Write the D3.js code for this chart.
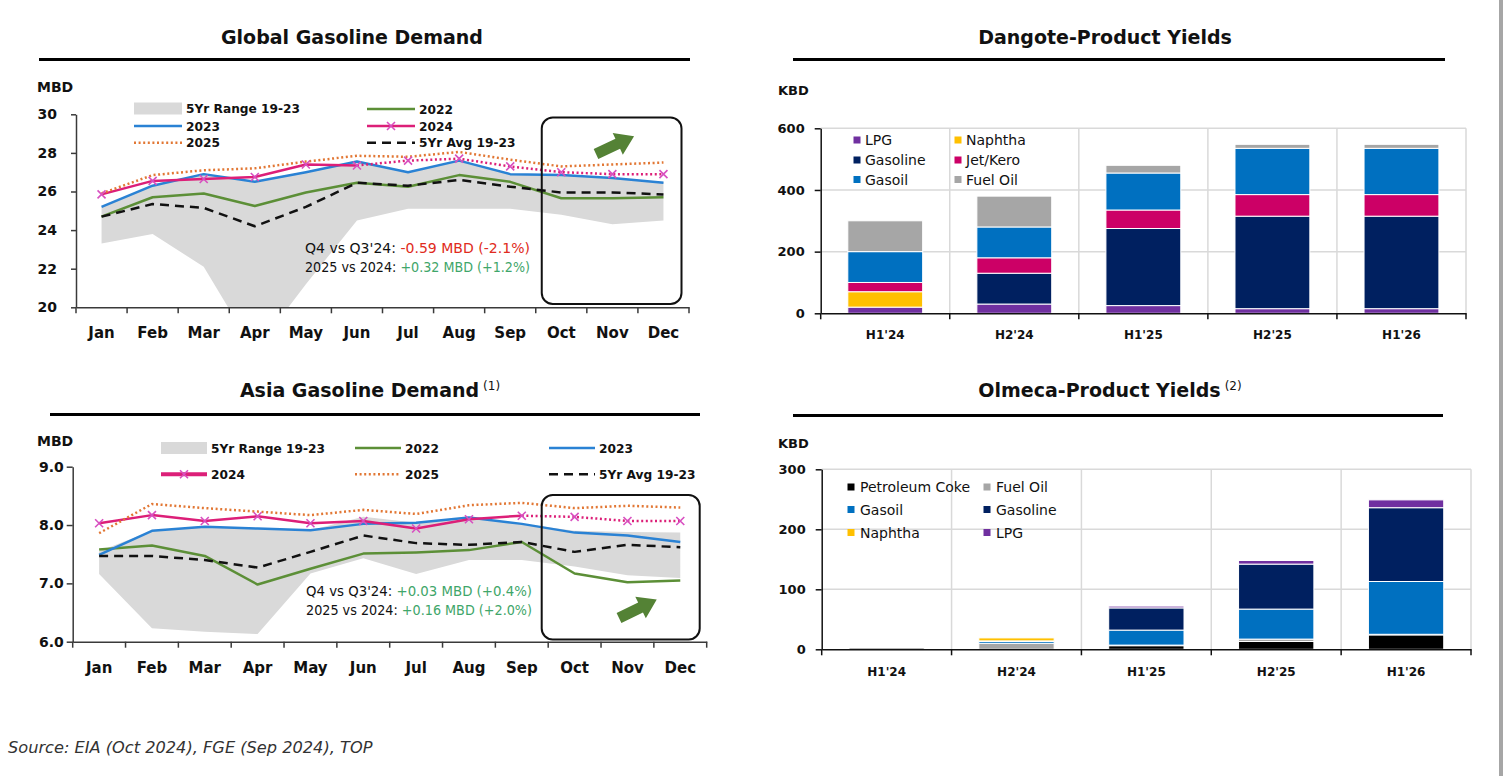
<!DOCTYPE html>
<html><head><meta charset="utf-8">
<script src="https://cdn.jsdelivr.net/npm/d3@7"></script>
<style>
body{margin:0;background:#fff}
svg{display:block}
text{font-family:"DejaVu Sans",sans-serif}
</style>
</head><body>
<svg id="c" width="1503" height="776"></svg>
<script>
// ---------------- DATA ----------------
const months = ["Jan","Feb","Mar","Apr","May","Jun","Jul","Aug","Sep","Oct","Nov","Dec"];

// Global gasoline demand (MBD)
const globalRangeLow  = [23.3, 23.8, 22.1, 17.7, 21.2, 24.5, 25.1, 25.1, 25.1, 24.8, 24.3, 24.5];
const globalRangeHigh = [25.2, 26.3, 26.9, 26.5, 27.0, 27.6, 27.0, 27.6, 26.9, 26.9, 26.7, 26.5];
const global2022 = [24.7, 25.7, 25.9, 25.25, 25.95, 26.45, 26.25, 26.85, 26.5, 25.65, 25.65, 25.7];
const global2023 = [25.2, 26.3, 26.9, 26.5, 27.0, 27.55, 27.0, 27.6, 26.9, 26.85, 26.7, 26.45];
const global2024 = [25.85, 26.55, 26.65, 26.75, 27.4, 27.35, 27.6, 27.7, 27.3, 27.0, 26.9, 26.9];
const global2025 = [25.9, 26.85, 27.1, 27.2, 27.55, 27.85, 27.8, 28.05, 27.65, 27.3, 27.4, 27.5];
const globalAvg  = [24.7, 25.35, 25.15, 24.2, 25.2, 26.45, 26.3, 26.6, 26.25, 25.95, 25.95, 25.85];
const globalTicks = [20, 22, 24, 26, 28, 30];

// Asia gasoline demand (MBD)
const asiaRangeLow  = [7.16, 6.23, 6.17, 6.13, 7.17, 7.43, 7.16, 7.40, 7.40, 7.29, 7.14, 7.09];
const asiaRangeHigh = [7.55, 7.90, 7.97, 7.94, 7.91, 8.14, 8.04, 8.13, 8.02, 7.90, 7.88, 7.87];
const asia2022 = [7.58, 7.65, 7.47, 6.98, 7.25, 7.51, 7.53, 7.57, 7.71, 7.17, 7.02, 7.05];
const asia2023 = [7.49, 7.90, 7.97, 7.94, 7.91, 8.02, 8.04, 8.13, 8.02, 7.87, 7.82, 7.71];
const asia2024 = [8.03, 8.17, 8.07, 8.15, 8.03, 8.07, 7.94, 8.10, 8.16, 8.14, 8.07, 8.07];
const asia2025 = [7.86, 8.36, 8.29, 8.23, 8.17, 8.26, 8.19, 8.34, 8.38, 8.29, 8.33, 8.30];
const asiaAvg  = [7.47, 7.47, 7.40, 7.27, 7.54, 7.82, 7.69, 7.66, 7.71, 7.54, 7.66, 7.62];
const asiaTicks = [6, 7, 8, 9];

// Product yields (KBD)
const periods = ["H1'24", "H2'24", "H1'25", "H2'25", "H1'26"];

const dangoteLPG      = [20, 30, 25, 15, 15];
const dangoteNaphtha  = [50, 0, 0, 0, 0];
const dangoteGasoline = [0, 100, 250, 300, 300];
const dangoteJet      = [30, 50, 60, 70, 70];
const dangoteGasoil   = [100, 100, 120, 150, 150];
const dangoteFuelOil  = [100, 100, 25, 13, 13];
const dangoteTicks = [0, 200, 400, 600];

const olmecaCoke     = [0, 0, 6, 13, 24];
const olmecaFuelOil  = [3, 10, 1, 4, 1];
const olmecaGasoil   = [0, 3, 25, 50, 88];
const olmecaGasoline = [0, 1, 37, 75, 123];
const olmecaNaphtha  = [0, 5, 0, 0, 0];
const olmecaLPG      = [0, 0, 3, 6, 13];
const olmecaTicks = [0, 100, 200, 300];

// ---------------- STYLE ----------------
const C = {
  range: "#D9D9D9", y2022: "#5C8F37", y2023: "#2A82D4", y2024: "#DC1F78", mark: "#D84FC0",
  y2025: "#E27734", avg: "#111111", axis: "#3a3a3a", grid: "#D9D9D9",
  LPG: "#7030A0", Naphtha: "#FFC000", Gasoline: "#002060", Jet: "#CC0066",
  Gasoil: "#0070C0", FuelOil: "#A6A6A6", Coke: "#000000", arrow: "#548235",
  red: "#E02B20", green: "#3FA66A"
};

const svg = d3.select("#c");

// right grey border strip
svg.append("rect").attr("x", 1499).attr("y", 0).attr("width", 4).attr("height", 776).attr("fill", "#A6A6A6");

function title(x, y, txt, sup, x0, x1, uy) {
  const t = svg.append("text").attr("x", x).attr("y", y).attr("text-anchor", "middle")
    .attr("font-size", 19).attr("font-weight", "bold").attr("fill", "#111").text(txt);
  if (sup) t.append("tspan").attr("font-size", 12).attr("font-weight", "normal").attr("dy", -7).attr("dx", 4).text(sup);
  svg.append("line").attr("x1", x0).attr("x2", x1).attr("y1", uy).attr("y2", uy)
    .attr("stroke", "#000").attr("stroke-width", 3);
}

function arrow(cx, cy, ang) {
  svg.append("path")
    .attr("d", "M0,-5.5L24,-5.5L24,-12L42,0L24,12L24,5.5L0,5.5Z")
    .attr("fill", C.arrow)
    .attr("transform", `translate(${cx},${cy}) rotate(${ang})`);
}

const markerPath = "M-4,-4L4,4M-4,4L4,-4";

function linePanel(o) {
  const g = svg.append("g");
  const x = d3.scaleBand().domain(months).range([o.x0, o.x1]).padding(0);
  const y = d3.scaleLinear().domain(o.domain).range([o.yB, o.yT]);
  const cx = i => x(months[i]) + x.bandwidth() / 2;

  const clipId = "clip" + o.id;
  svg.append("clipPath").attr("id", clipId).append("rect")
    .attr("x", o.x0).attr("y", o.yT - 30).attr("width", o.x1 - o.x0).attr("height", o.yB - o.yT + 30);

  const area = d3.area().x((d, i) => cx(i)).y0((d, i) => y(o.lo[i])).y1((d, i) => y(o.hi[i]));
  g.append("path").datum(o.lo).attr("d", area).attr("fill", C.range).attr("clip-path", `url(#${clipId})`);

  const line = d3.line().x(d => cx(d.i)).y(d => y(d.v));
  const pts = arr => arr.map((v, i) => ({ v, i }));
  const draw = (data, color, dash) => g.append("path").datum(data).attr("d", line)
    .attr("fill", "none").attr("stroke", color).attr("stroke-width", 2.5)
    .attr("stroke-dasharray", dash || null).attr("stroke-linejoin", "round");

  draw(pts(o.s2022), C.y2022);
  draw(pts(o.s2023), C.y2023);
  const p24 = pts(o.s2024);
  draw(p24.slice(0, o.split + 1), C.y2024);
  draw(p24.slice(o.split), C.y2024, "2,2.6");
  draw(pts(o.s2025), C.y2025, "2,2.6");
  draw(pts(o.avg), C.avg, "9,6");
  g.selectAll(".mk").data(p24).join("path").attr("d", markerPath)
    .attr("transform", d => `translate(${cx(d.i)},${y(d.v)})`)
    .attr("stroke", C.mark).attr("stroke-width", 1.6).attr("fill", "none");

  // y axis
  const ya = g.append("g").attr("transform", `translate(${o.x0},0)`)
    .call(d3.axisLeft(y).tickValues(o.ticks).tickSize(o.tickSize).tickSizeOuter(0).tickPadding(o.tickPad).tickFormat(o.fmt));
  ya.select(".domain").attr("stroke", C.axis).attr("stroke-width", 1.5);
  ya.selectAll(".tick line").attr("stroke", C.axis).attr("stroke-width", 1.5);
  ya.selectAll(".tick text").attr("font-family", "DejaVu Sans").attr("font-size", 14).attr("font-weight", "bold").attr("fill", "#111");

  // x axis
  const xa = g.append("g").attr("transform", `translate(0,${o.yB})`)
    .call(d3.axisBottom(x).tickSize(0).tickSizeOuter(0).tickPadding(o.xPad));
  xa.select(".domain").attr("stroke", C.axis).attr("stroke-width", 1.5);
  xa.selectAll(".tick text").attr("font-family", "DejaVu Sans").attr("font-size", 15).attr("font-weight", "bold").attr("fill", "#111");
  g.selectAll(".bt").data(d3.range(months.length + 1)).join("line")
    .attr("x1", i => o.x0 + i * x.step()).attr("x2", i => o.x0 + i * x.step())
    .attr("y1", o.yB).attr("y2", o.yB + 6).attr("stroke", C.axis).attr("stroke-width", 1.5);

  // unit
  svg.append("text").attr("x", o.unitX).attr("y", o.unitY).attr("font-size", 14).attr("font-weight", "bold").attr("fill", "#111").text("MBD");

  // highlight box for Q4
  const bx = x("Oct") + o.boxLeftOffset, bx1 = o.x1 - o.boxRightInset;
  svg.append("rect").attr("x", bx).attr("y", o.boxTop).attr("width", bx1 - bx).attr("height", o.boxBottom - o.boxTop)
    .attr("rx", 11).attr("fill", "none").attr("stroke", "#111").attr("stroke-width", 2);

  // annotation text
  const ann = (yy, lbl, val, col) => {
    const t = svg.append("text").attr("x", o.annX).attr("y", yy).attr("font-size", 13.6).attr("fill", "#111")
      .attr("textLength", o.annW).attr("lengthAdjust", "spacingAndGlyphs");
    t.append("tspan").text(lbl);
    t.append("tspan").attr("fill", col).text(val);
  };
  ann(o.annY1, o.ann1[0], o.ann1[1], o.ann1[2]);
  ann(o.annY2, o.ann2[0], o.ann2[1], o.ann2[2]);

  // legend
  const L = o.legend;
  const lt = (xx, yy, txt) => svg.append("text").attr("x", xx).attr("y", yy + 4.5).attr("font-size", 12.2).attr("font-weight", "bold").attr("fill", "#111").text(txt);
  const ll = (xx, yy, col, dash, w) => svg.append("line").attr("x1", xx).attr("x2", xx + L.w).attr("y1", yy).attr("y2", yy)
    .attr("stroke", col).attr("stroke-width", w || 2.5).attr("stroke-dasharray", dash || null);
  L.items.forEach(it => {
    if (it.k === "range") {
      svg.append("rect").attr("x", it.x).attr("y", it.y - 6).attr("width", L.w).attr("height", 12).attr("fill", C.range);
    } else if (it.k === "2022") ll(it.x, it.y, C.y2022);
    else if (it.k === "2023") ll(it.x, it.y, C.y2023);
    else if (it.k === "2025") ll(it.x, it.y, C.y2025, "2,2.6");
    else if (it.k === "avg") ll(it.x, it.y, C.avg, "9,6");
    else if (it.k === "2024") {
      ll(it.x, it.y, C.y2024, null, L.w24 || 2.5);
      svg.append("path").attr("d", markerPath).attr("transform", `translate(${it.x + L.w / 2},${it.y})`)
        .attr("stroke", C.mark).attr("stroke-width", 1.6);
    }
    lt(it.x + L.w + 4, it.y, it.t);
  });
}

// ---------------- GLOBAL ----------------
title(352, 44, "Global Gasoline Demand", null, 39, 690, 59.5);
linePanel({
  id: "g", x0: 76, x1: 689, yT: 114.3, yB: 307.3, domain: [20, 30], ticks: globalTicks, fmt: d3.format("d"),
  tickSize: 5, tickPad: 14, xPad: 20,
  lo: globalRangeLow, hi: globalRangeHigh, s2022: global2022, s2023: global2023, s2024: global2024, s2025: global2025, avg: globalAvg,
  split: 5, unitX: 37, unitY: 92,
  boxTop: 117.5, boxBottom: 304, boxLeftOffset: 6, boxRightInset: 7.5,
  annX: 305, annY1: 253, annY2: 272, annW: 225,
  ann1: ["Q4 vs Q3'24: ", "-0.59 MBD (-2.1%)", C.red],
  ann2: ["2025 vs 2024: ", "+0.32 MBD (+1.2%)", C.green],
  legend: { w: 48, items: [
    { k: "range", x: 134, y: 108.5, t: "5Yr Range 19-23" },
    { k: "2023", x: 134, y: 126, t: "2023" },
    { k: "2025", x: 134, y: 142.7, t: "2025" },
    { k: "2022", x: 367, y: 109, t: "2022" },
    { k: "2024", x: 367, y: 126, t: "2024" },
    { k: "avg", x: 367, y: 142.7, t: "5Yr Avg 19-23" }
  ]}
});
arrow(596, 154, -25);

// ---------------- ASIA ----------------
title(370, 397, "Asia Gasoline Demand", "(1)", 50, 700, 414.5);
linePanel({
  id: "a", x0: 72.7, x1: 706.7, yT: 466.7, yB: 641.7, domain: [6, 9], ticks: asiaTicks, fmt: d3.format(".1f"),
  tickSize: 6, tickPad: 3, xPad: 21,
  lo: asiaRangeLow, hi: asiaRangeHigh, s2022: asia2022, s2023: asia2023, s2024: asia2024, s2025: asia2025, avg: asiaAvg,
  split: 8, unitX: 37, unitY: 446,
  boxTop: 495, boxBottom: 639.5, boxLeftOffset: -6.5, boxRightInset: 7,
  annX: 306, annY1: 596, annY2: 614.5, annW: 226,
  ann1: ["Q4 vs Q3'24: ", "+0.03 MBD (+0.4%)", C.green],
  ann2: ["2025 vs 2024: ", "+0.16 MBD (+2.0%)", C.green],
  legend: { w: 46, w24: 4, items: [
    { k: "range", x: 161, y: 448, t: "5Yr Range 19-23" },
    { k: "2022", x: 355, y: 448, t: "2022" },
    { k: "2023", x: 549, y: 448, t: "2023" },
    { k: "2024", x: 161, y: 474.3, t: "2024" },
    { k: "2025", x: 355, y: 474.3, t: "2025" },
    { k: "avg", x: 549, y: 474.3, t: "5Yr Avg 19-23" }
  ]}
});
arrow(619, 618, -26);

// ---------------- BAR PANELS ----------------
function barPanel(o) {
  const g = svg.append("g");
  const x = d3.scaleBand().domain(periods).range([o.x0, o.x1]).paddingInner(0.42).paddingOuter(0.21);
  const y = d3.scaleLinear().domain([0, o.ticks[o.ticks.length - 1]]).range([o.yB, o.yT]);
  const step = x.step();

  // grid
  g.selectAll(".hg").data(o.ticks.slice(1)).join("line")
    .attr("x1", o.x0).attr("x2", o.x1).attr("y1", d => y(d)).attr("y2", d => y(d))
    .attr("stroke", C.grid).attr("stroke-width", 1.5);
  g.selectAll(".vg").data(d3.range(1, periods.length + 1)).join("line")
    .attr("x1", i => o.x0 + i * step).attr("x2", i => o.x0 + i * step)
    .attr("y1", o.yT).attr("y2", o.yB).attr("stroke", C.grid).attr("stroke-width", 1.5);

  // stacks
  const rows = periods.map((p, i) => {
    const r = { period: p };
    o.series.forEach(s => r[s.key] = s.values[i]);
    return r;
  });
  const stacked = d3.stack().keys(o.series.map(s => s.key))(rows);
  stacked.forEach((layer, li) => {
    g.append("g").selectAll("rect").data(layer.filter(d => d[1] - d[0] > 0)).join("rect")
      .attr("x", d => x(d.data.period)).attr("width", x.bandwidth())
      .attr("y", d => y(d[1])).attr("height", d => y(d[0]) - y(d[1]))
      .attr("fill", o.series[li].color).attr("stroke", "#fff").attr("stroke-width", 1);
  });

  // axes
  const ya = g.append("g").attr("transform", `translate(${o.x0},0)`)
    .call(d3.axisLeft(y).tickValues(o.ticks).tickSize(6).tickSizeOuter(0).tickPadding(o.tickPad));
  ya.select(".domain").attr("stroke", "#111").attr("stroke-width", 1.5);
  ya.selectAll(".tick line").attr("stroke", "#111").attr("stroke-width", 1.5);
  ya.selectAll(".tick text").attr("font-family", "DejaVu Sans").attr("font-size", 13).attr("font-weight", "bold").attr("fill", "#111");

  const xa = g.append("g").attr("transform", `translate(0,${o.yB})`)
    .call(d3.axisBottom(x).tickSize(0).tickSizeOuter(0).tickPadding(o.xPad));
  xa.select(".domain").attr("stroke", "#111").attr("stroke-width", 1.5);
  xa.selectAll(".tick text").attr("font-family", "DejaVu Sans").attr("font-size", 12).attr("font-weight", "bold").attr("fill", "#111");
  g.selectAll(".bt").data(d3.range(periods.length + 1)).join("line")
    .attr("x1", i => o.x0 + i * step).attr("x2", i => o.x0 + i * step)
    .attr("y1", o.yB).attr("y2", o.yB + 6).attr("stroke", "#111").attr("stroke-width", 1.5);

  svg.append("text").attr("x", o.unitX).attr("y", o.unitY).attr("font-size", 13).attr("font-weight", "bold").attr("fill", "#111").text("KBD");

  // legend
  o.legend.forEach(it => {
    const s = o.series.find(q => q.key === it.key);
    svg.append("rect").attr("x", it.x - 3.5).attr("y", it.y - 3.5).attr("width", 7).attr("height", 7).attr("fill", s.color);
    svg.append("text").attr("x", it.x + o.legTextDx).attr("y", it.y + 5).attr("font-size", 14).attr("fill", "#111").text(s.label);
  });
}

title(1105, 44, "Dangote-Product Yields", null, 793, 1445, 59.5);
barPanel({
  x0: 820.7, x1: 1466, yT: 128.3, yB: 313.3, ticks: dangoteTicks, tickPad: 10, xPad: 17,
  unitX: 778, unitY: 95,
  series: [
    { key: "LPG", label: "LPG", values: dangoteLPG, color: C.LPG },
    { key: "Naphtha", label: "Naphtha", values: dangoteNaphtha, color: C.Naphtha },
    { key: "Gasoline", label: "Gasoline", values: dangoteGasoline, color: C.Gasoline },
    { key: "Jet", label: "Jet/Kero", values: dangoteJet, color: C.Jet },
    { key: "Gasoil", label: "Gasoil", values: dangoteGasoil, color: C.Gasoil },
    { key: "FuelOil", label: "Fuel Oil", values: dangoteFuelOil, color: C.FuelOil }
  ],
  legTextDx: 8,
  legend: [
    { key: "LPG", x: 857, y: 140 }, { key: "Naphtha", x: 958, y: 140 },
    { key: "Gasoline", x: 857, y: 160 }, { key: "Jet", x: 958, y: 160 },
    { key: "Gasoil", x: 857, y: 179.5 }, { key: "FuelOil", x: 958, y: 179.5 }
  ]
});

title(1110, 397, "Olmeca-Product Yields", "(2)", 793, 1443, 415.5);
barPanel({
  x0: 821.7, x1: 1471, yT: 469.3, yB: 649.3, ticks: olmecaTicks, tickPad: 10, xPad: 18,
  unitX: 778, unitY: 448,
  series: [
    { key: "Coke", label: "Petroleum Coke", values: olmecaCoke, color: C.Coke },
    { key: "FuelOil", label: "Fuel Oil", values: olmecaFuelOil, color: C.FuelOil },
    { key: "Gasoil", label: "Gasoil", values: olmecaGasoil, color: C.Gasoil },
    { key: "Gasoline", label: "Gasoline", values: olmecaGasoline, color: C.Gasoline },
    { key: "Naphtha", label: "Naphtha", values: olmecaNaphtha, color: C.Naphtha },
    { key: "LPG", label: "LPG", values: olmecaLPG, color: C.LPG }
  ],
  legTextDx: 9,
  legend: [
    { key: "Coke", x: 851, y: 487 }, { key: "FuelOil", x: 987, y: 487 },
    { key: "Gasoil", x: 851, y: 509.5 }, { key: "Gasoline", x: 987, y: 509.5 },
    { key: "Naphtha", x: 851, y: 532.5 }, { key: "LPG", x: 987, y: 532.5 }
  ]
});

// source
svg.append("text").attr("x", 8).attr("y", 753).attr("font-family", "Liberation Sans, Arial, sans-serif")
  .attr("font-style", "italic").attr("font-size", 16.2).attr("fill", "#333")
  .text("Source: EIA (Oct 2024), FGE (Sep 2024), TOP");
</script>
</body></html>
